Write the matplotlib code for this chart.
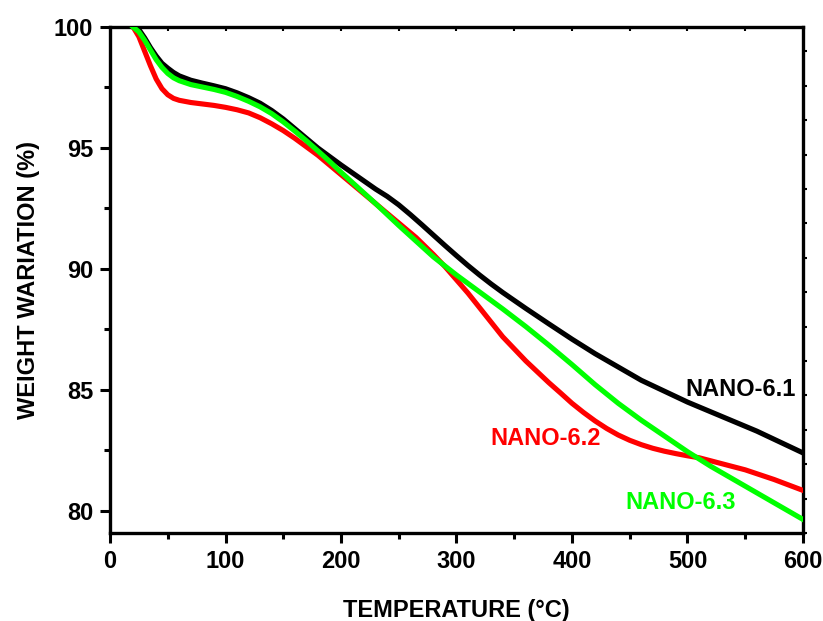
import matplotlib
matplotlib.use("Agg")
import matplotlib.pyplot as plt
import numpy as np

# ---- data ----
x_61 = [20, 25, 30, 35, 40, 45, 50, 55, 60, 70, 80, 90, 100, 110, 120, 130, 140, 150, 160, 170, 180,
        190, 200, 215, 230, 240, 250, 260, 270, 280, 290, 300, 310, 320, 330, 340, 360, 380, 400,
        420, 440, 460, 480, 500, 520, 540, 560, 580, 600]
y_61 = [100, 99.9, 99.55, 99.15, 98.8, 98.5, 98.3, 98.12, 97.98, 97.8, 97.68, 97.57, 97.45, 97.28,
        97.08, 96.85, 96.55, 96.2, 95.8, 95.4, 95.0, 94.65, 94.3, 93.8, 93.3, 93.0, 92.65, 92.25,
        91.83, 91.4, 90.97, 90.55, 90.14, 89.75, 89.38, 89.03, 88.37, 87.73, 87.1, 86.5, 85.95,
        85.4, 84.95, 84.5, 84.1, 83.7, 83.3, 82.85, 82.4]

x_62 = [20, 25, 30, 35, 40, 45, 50, 55, 60, 70, 80, 90, 100, 110, 120, 130, 140, 150, 160, 170, 180,
        190, 200, 215, 230, 250, 265, 280, 290, 300, 310, 320, 330, 340, 350, 360, 370, 380, 390,
        400, 410, 420, 430, 440, 450, 460, 470, 480, 490, 500, 510, 530, 550, 575, 600]
y_62 = [100, 99.6, 99.0, 98.4, 97.85, 97.45, 97.2, 97.05, 96.97, 96.88, 96.82, 96.76, 96.68, 96.58,
        96.45, 96.25, 96.0, 95.72, 95.4, 95.05, 94.7, 94.3, 93.9, 93.3, 92.7, 91.9, 91.3, 90.6,
        90.1, 89.55, 89.0, 88.4, 87.8, 87.2, 86.7, 86.2, 85.75, 85.3, 84.88, 84.45, 84.07, 83.72,
        83.41, 83.14, 82.92, 82.74, 82.59, 82.47, 82.37, 82.28, 82.2, 81.95, 81.7, 81.3, 80.85]

x_63 = [20, 25, 30, 35, 40, 45, 50, 55, 60, 70, 80, 90, 100, 110, 120, 130, 140, 150, 160, 170, 180,
        190, 200, 215, 230, 250, 265, 280, 300, 320, 340, 360, 380, 400, 420, 440, 460, 480, 500,
        520, 540, 560, 580, 600]
y_63 = [100, 99.8, 99.45, 99.05, 98.65, 98.33, 98.08, 97.9, 97.78, 97.62, 97.52, 97.42, 97.3, 97.13,
        96.93, 96.7, 96.42, 96.08, 95.7, 95.3, 94.88, 94.45, 94.0, 93.35, 92.7, 91.8, 91.15, 90.5,
        89.75, 89.05, 88.35, 87.62, 86.85, 86.05, 85.22, 84.45, 83.75, 83.1, 82.45, 81.85, 81.3,
        80.75, 80.2, 79.65]

series_labels = ["NANO-6.1", "NANO-6.2", "NANO-6.3"]
label_pos = [(546, 85.0), (377, 83.0), (494, 80.37)]
colors = ["#000000", "#FF0000", "#00FF00"]

x_ticks = [0, 100, 200, 300, 400, 500, 600]
y_ticks = [80, 85, 90, 95, 100]

# ---- figure ----
plt.rcParams['font.family'] = ['Liberation Sans', 'DejaVu Sans']
plt.rcParams['font.weight'] = 'bold'

fig = plt.figure(figsize=(8.23, 6.21), dpi=100)
ax = fig.add_axes([110/823, 88/621, 693/823, 506/621])

for xs, ys, c in zip([x_61, x_62, x_63], [y_61, y_62, y_63], colors):
    ax.plot(xs, ys, color=c, lw=3.7, solid_joinstyle='round', zorder=3)

for (tx, ty), lab, c in zip(label_pos, series_labels, colors):
    ax.text(tx, ty, lab, color=c, fontsize=17, fontweight='bold', ha='center', va='center')

ax.set_xlim(0, 600)
ax.set_ylim(79.09, 100)
ax.set_xticks(x_ticks)
ax.set_yticks(y_ticks)
ax.set_xticks(np.arange(50, 600, 100), minor=True)
ax.set_yticks(np.arange(82.5, 100, 5), minor=True)
ax.tick_params(which='major', direction='out', length=7, width=2.2, labelsize=17, pad=5)
ax.tick_params(which='minor', direction='out', length=4, width=2.2)
for lab in ax.get_xticklabels() + ax.get_yticklabels():
    lab.set_fontweight('bold')

for sp in ax.spines.values():
    sp.set_linewidth(2.4)

# small inner ticks on top spine
sec = ax.secondary_xaxis('top')
sec.set_xticks(np.arange(50, 600, 50))
sec.tick_params(direction='in', length=3, width=1.5, labeltop=False)
sec.spines['top'].set_visible(False)

# small outer ticks on right spine
tw = ax.twinx()
tw.set_ylim(0, 506/34.4)
tw.set_yticks(np.arange(0, 15))
tw.tick_params(direction='out', length=3, width=1.5, labelright=False)
for sp in tw.spines.values():
    sp.set_visible(False)

ax.set_xlabel("TEMPERATURE (°C)", fontsize=17, fontweight='bold', labelpad=19)
ax.set_ylabel("WEIGHT WARIATION (%)", fontsize=17, fontweight='bold', labelpad=10)

fig.savefig("out.png", dpi=100)
